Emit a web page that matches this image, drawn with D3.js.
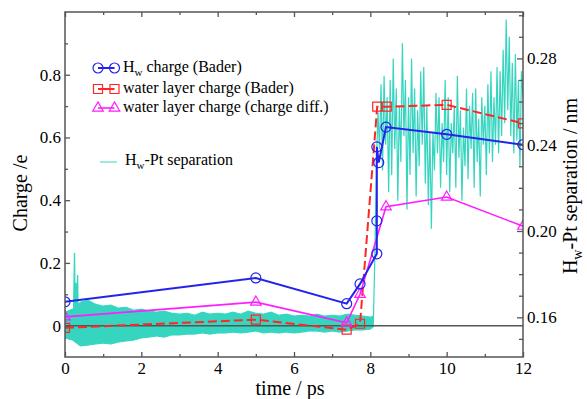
<!DOCTYPE html>
<html>
<head>
<meta charset="utf-8">
<script src="https://cdn.jsdelivr.net/npm/d3@7"></script>
<style>
  html, body { margin: 0; padding: 0; background: #fff; }
  svg { display: block; }
</style>
</head>
<body>
<div id="chart"></div>
<script>
// charge series (left axis, e)
const chargeTimes = [0, 5, 7.38, 7.73, 8.17, 8.17, 8.17, 8.22, 8.41, 10, 12];
const hwBader = [0.076, 0.152, 0.070, 0.133, 0.229, 0.334, 0.570, 0.520, 0.633, 0.610, 0.577];

const layerTimes = [0, 5, 7.38, 7.73, 8.18, 8.43, 10, 12];
const layerBader = [-0.007, 0.019, -0.013, 0.006, 0.698, 0.698, 0.704, 0.645];

const diffTimes = [0, 5, 7.38, 7.73, 8.41, 10, 12];
const layerDiff = [0.028, 0.075, 0.009, 0.100, 0.379, 0.410, 0.317];

// Hw-Pt separation (right axis, nm): fast oscillating band before the jump
const bandT = [0, 0.2, 0.4, 0.6, 0.8, 1.0, 1.2, 1.4, 1.6, 1.8, 2.0, 2.2, 2.4, 2.6, 2.8, 3.0, 3.2, 3.4, 3.6, 3.8, 4.0,
  4.2, 4.4, 4.6, 4.8, 5.0, 5.2, 5.4, 5.6, 5.8, 6.0, 6.2, 6.4, 6.6, 6.8, 7.0, 7.2, 7.4, 7.6, 7.8, 8.0, 8.08];
const bandHi = [0.1624, 0.1638, 0.1670, 0.1680, 0.1661, 0.1652, 0.1657, 0.1643, 0.1647, 0.1633, 0.1638, 0.1629,
  0.1624, 0.1629, 0.1619, 0.1615, 0.1619, 0.1610, 0.1624, 0.1615, 0.1619, 0.1615, 0.1624, 0.1615, 0.1629, 0.1619,
  0.1615, 0.1624, 0.1610, 0.1615, 0.1606, 0.1610, 0.1606, 0.1615, 0.1606, 0.1610, 0.1606, 0.1615, 0.1610, 0.1606,
  0.1601, 0.1606];
const bandLo = [0.1504, 0.1494, 0.1467, 0.1471, 0.1476, 0.1480, 0.1476, 0.1485, 0.1490, 0.1494, 0.1504, 0.1508,
  0.1513, 0.1508, 0.1518, 0.1518, 0.1522, 0.1522, 0.1527, 0.1522, 0.1527, 0.1527, 0.1531, 0.1527, 0.1531, 0.1536,
  0.1527, 0.1531, 0.1527, 0.1531, 0.1527, 0.1531, 0.1536, 0.1536, 0.1531, 0.1536, 0.1531, 0.1536, 0.1541, 0.1541,
  0.1545, 0.1555];
const spikeT = [0.22, 0.25, 0.27, 0.29, 0.31, 0.33, 0.35, 0.37];
const spikeV = [0.160, 0.1898, 0.150, 0.176, 0.152, 0.1796, 0.150, 0.158];

// after the jump, sampled every 0.04 ps from 8.08 ps
const sepStart = 8.08;
const sepStep = 0.04;
const sepValues = [
  0.158, 0.190, 0.232, 0.255, 0.238, 0.268, 0.228, 0.272, 0.240, 0.262, 0.218, 0.270, 0.226, 0.280, 0.238, 0.266,
  0.214, 0.258, 0.232, 0.287, 0.244, 0.270, 0.210, 0.262, 0.226, 0.280, 0.236, 0.266, 0.216, 0.256, 0.230, 0.274,
  0.240, 0.276, 0.222, 0.258, 0.212, 0.246, 0.201, 0.246, 0.228, 0.264, 0.236, 0.262, 0.220, 0.250, 0.232, 0.270,
  0.226, 0.262, 0.218, 0.250, 0.236, 0.258, 0.220, 0.272, 0.234, 0.256, 0.214, 0.248, 0.230, 0.266, 0.224, 0.258,
  0.238, 0.264, 0.220, 0.266, 0.232, 0.252, 0.216, 0.262, 0.240, 0.258, 0.226, 0.268, 0.236, 0.274, 0.232, 0.262,
  0.240, 0.276, 0.236, 0.274, 0.244, 0.284, 0.250, 0.298, 0.256, 0.290, 0.244, 0.278, 0.236, 0.282, 0.242, 0.270,
  0.230, 0.274, 0.262];

const xMajor = [0, 2, 4, 6, 8, 10, 12];
const xMinor = [1, 3, 5, 7, 9, 11];
const yLeftMajor = [0, 0.2, 0.4, 0.6, 0.8];
const yLeftMinor = [0.1, 0.3, 0.5, 0.7, 0.9];
const yRightMajor = [0.16, 0.20, 0.24, 0.28];
const yRightMinor = [0.15, 0.17, 0.18, 0.19, 0.21, 0.22, 0.23, 0.25, 0.26, 0.27, 0.29, 0.30];

const width = 587;
const height = 399;
const margin = { top: 12, right: 64, bottom: 42, left: 65 };
const font = 'Liberation Serif';
const colors = { hw: '#2323ec', layer: '#ff2626', diff: '#ff1cff', sep: '#35d5c0', frame: '#555' };

const svg = d3.select('#chart')
  .append('svg')
  .attr('width', width)
  .attr('height', height)
  .attr('font-family', font);

const x = d3.scaleLinear().domain([0, 12]).range([margin.left, width - margin.right]);
const yL = d3.scaleLinear().domain([-0.1, 1.0]).range([height - margin.bottom, margin.top]);
const yR = d3.scaleLinear().domain([0.1416, 0.3015]).range([height - margin.bottom, margin.top]);

svg.append('clipPath')
  .attr('id', 'plot-clip')
  .append('rect')
  .attr('x', margin.left)
  .attr('y', margin.top)
  .attr('width', width - margin.left - margin.right)
  .attr('height', height - margin.top - margin.bottom);

const plot = svg.append('g').attr('clip-path', 'url(#plot-clip)');

// separation band + line
const band = bandT.map((t, i) => ({ t, hi: bandHi[i], lo: bandLo[i] }));
plot.append('path')
  .datum(band)
  .attr('fill', colors.sep)
  .attr('stroke', colors.sep)
  .attr('stroke-width', 1)
  .attr('d', d3.area().x(d => x(d.t)).y0(d => yR(d.lo)).y1(d => yR(d.hi)));

const sepLine = d3.line().x(d => x(d[0])).y(d => yR(d[1]));
plot.append('path')
  .datum(spikeT.map((t, i) => [t, spikeV[i]]))
  .attr('fill', 'none')
  .attr('stroke', colors.sep)
  .attr('stroke-width', 1.3)
  .attr('d', sepLine);
plot.append('path')
  .datum(sepValues.map((v, i) => [sepStart + i * sepStep, v]))
  .attr('fill', 'none')
  .attr('stroke', colors.sep)
  .attr('stroke-width', 1.2)
  .attr('d', sepLine);

// zero line
plot.append('line')
  .attr('x1', x(0)).attr('x2', x(12))
  .attr('y1', yL(0)).attr('y2', yL(0))
  .attr('stroke', '#555')
  .attr('stroke-width', 1.5);

const chargeLine = d3.line().x(d => x(d[0])).y(d => yL(d[1]));

function drawSeries(times, values, color, dash, lineWidth, symbol) {
  const pts = times.map((t, i) => [t, values[i]]);
  const g = plot.append('g');
  g.append('path')
    .datum(pts)
    .attr('fill', 'none')
    .attr('stroke', color)
    .attr('stroke-width', lineWidth)
    .attr('stroke-dasharray', dash)
    .attr('d', chargeLine);
  g.selectAll('path.marker')
    .data(pts)
    .join('path')
    .attr('class', 'marker')
    .attr('transform', d => `translate(${x(d[0])},${yL(d[1])})`)
    .attr('d', symbol)
    .attr('fill', 'none')
    .attr('stroke', color)
    .attr('stroke-width', 1.2);
}

const circleSym = d3.symbol().type(d3.symbolCircle).size(Math.PI * 25)();
const squareSym = d3.symbol().type(d3.symbolSquare).size(81)();
const triangleSym = d3.symbol().type(d3.symbolTriangle).size(48)();

drawSeries(layerTimes, layerBader, colors.layer, '9,4', 2, squareSym);
drawSeries(diffTimes, layerDiff, colors.diff, null, 1.6, triangleSym);
drawSeries(chargeTimes, hwBader, colors.hw, null, 2, circleSym);

// frame
svg.append('rect')
  .attr('x', margin.left)
  .attr('y', margin.top)
  .attr('width', width - margin.left - margin.right)
  .attr('height', height - margin.top - margin.bottom)
  .attr('fill', 'none')
  .attr('stroke', colors.frame)
  .attr('stroke-width', 1.5);

function styleAxis(g) {
  g.attr('font-family', font).attr('font-size', 17);
  g.select('.domain').remove();
  g.selectAll('line').attr('stroke', colors.frame).attr('stroke-width', 1.3);
  g.selectAll('text').attr('fill', '#000');
}

const bottomY = height - margin.bottom;
const rightX = width - margin.right;

svg.append('g').attr('transform', `translate(0,${bottomY})`)
  .call(d3.axisBottom(x).tickValues(xMajor).tickSize(-5).tickPadding(5).tickFormat(d3.format('d')))
  .call(styleAxis);
svg.append('g').attr('transform', `translate(0,${bottomY})`)
  .call(d3.axisBottom(x).tickValues(xMinor).tickSize(-3).tickFormat(''))
  .call(styleAxis);
svg.append('g').attr('transform', `translate(0,${margin.top})`)
  .call(d3.axisTop(x).tickValues(xMajor).tickSize(-5).tickFormat(''))
  .call(styleAxis);
svg.append('g').attr('transform', `translate(0,${margin.top})`)
  .call(d3.axisTop(x).tickValues(xMinor).tickSize(-3).tickFormat(''))
  .call(styleAxis);

svg.append('g').attr('transform', `translate(${margin.left},0)`)
  .call(d3.axisLeft(yL).tickValues(yLeftMajor).tickSize(-5).tickPadding(4).tickFormat(d => d === 0 ? '0' : d3.format('.1f')(d)))
  .call(styleAxis);
svg.append('g').attr('transform', `translate(${margin.left},0)`)
  .call(d3.axisLeft(yL).tickValues(yLeftMinor).tickSize(-3).tickFormat(''))
  .call(styleAxis);

svg.append('g').attr('transform', `translate(${rightX},0)`)
  .call(d3.axisRight(yR).tickValues(yRightMajor).tickSize(-6).tickPadding(4).tickFormat(d3.format('.2f')))
  .call(styleAxis);
svg.append('g').attr('transform', `translate(${rightX},0)`)
  .call(d3.axisRight(yR).tickValues(yRightMinor).tickSize(-4).tickFormat(''))
  .call(styleAxis);

// axis titles
svg.append('text')
  .attr('x', 290)
  .attr('y', 395)
  .attr('text-anchor', 'middle')
  .attr('font-size', 20)
  .text('time / ps');

svg.append('text')
  .attr('transform', 'translate(27,193) rotate(-90)')
  .attr('text-anchor', 'middle')
  .attr('font-size', 20)
  .text('Charge /e');

const rTitle = svg.append('text')
  .attr('transform', 'translate(577,186) rotate(-90)')
  .attr('text-anchor', 'middle')
  .attr('font-size', 20);
rTitle.append('tspan').text('H');
rTitle.append('tspan').attr('font-size', 14).attr('dy', 5).text('w');
rTitle.append('tspan').attr('dy', -5).text('-Pt separation / nm');

// legend
const legend = svg.append('g').attr('class', 'legend');
const legendRows = [
  { y: 68, color: colors.hw, dash: null, sym: circleSym, w: 2, label: ['H', 'w', ' charge (Bader)'] },
  { y: 89, color: colors.layer, dash: '9,4', sym: squareSym, w: 2, label: ['water layer charge (Bader)'] },
  { y: 108, color: colors.diff, dash: null, sym: triangleSym, w: 1.6, label: ['water layer charge (charge diff.)'] }
];

legendRows.forEach(row => {
  legend.append('line')
    .attr('x1', 98).attr('x2', 114.5)
    .attr('y1', row.y).attr('y2', row.y)
    .attr('stroke', row.color)
    .attr('stroke-width', row.w);
  [98, 114.5].forEach(cx => {
    legend.append('path')
      .attr('transform', `translate(${cx},${row.y})`)
      .attr('d', row.sym)
      .attr('fill', 'none')
      .attr('stroke', row.color)
      .attr('stroke-width', 1.2);
  });
  const t = legend.append('text')
    .attr('x', 123)
    .attr('y', row.y + 4)
    .attr('font-size', 16);
  if (row.label.length === 3) {
    t.append('tspan').text(row.label[0]);
    t.append('tspan').attr('font-size', 11).attr('dy', 4).text(row.label[1]);
    t.append('tspan').attr('dy', -4).text(row.label[2]);
  } else {
    t.text(row.label[0]);
  }
});

legend.append('line')
  .attr('x1', 100).attr('x2', 117)
  .attr('y1', 162).attr('y2', 162)
  .attr('stroke', colors.sep)
  .attr('stroke-width', 1);
const sepLabel = legend.append('text')
  .attr('x', 125)
  .attr('y', 165)
  .attr('font-size', 16);
sepLabel.append('tspan').text('H');
sepLabel.append('tspan').attr('font-size', 11).attr('dy', 4).text('w');
sepLabel.append('tspan').attr('dy', -4).text('-Pt separation');
</script>
</body>
</html>
